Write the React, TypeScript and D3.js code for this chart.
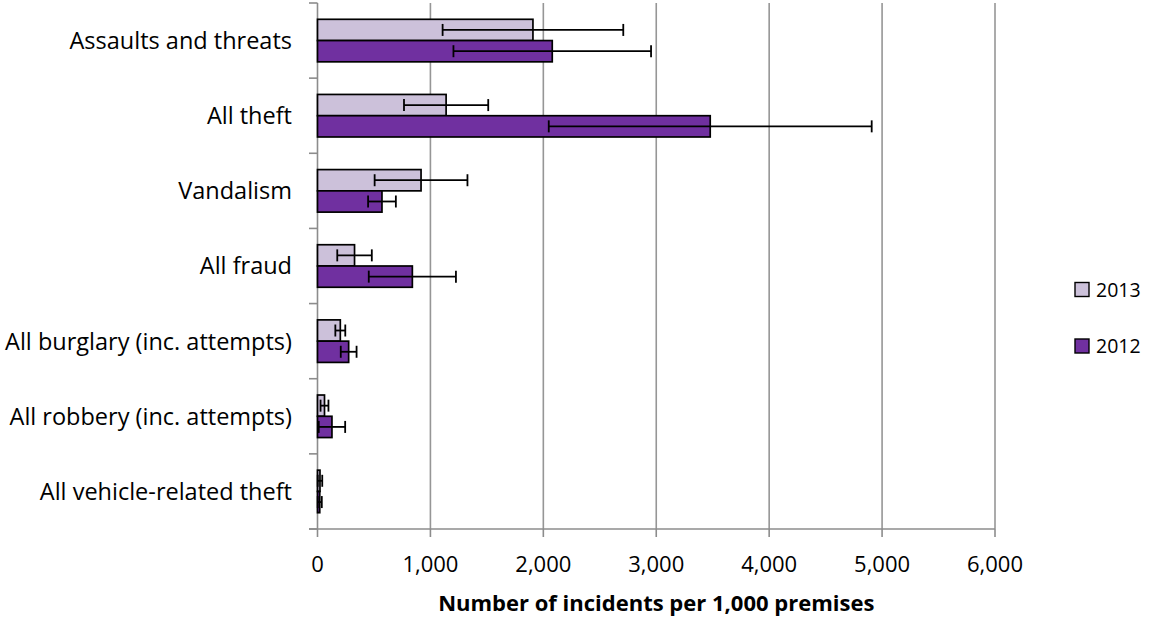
import React from "react";
import * as d3 from "d3";

const categories = [
  "Assaults and threats",
  "All theft",
  "Vandalism",
  "All fraud",
  "All burglary (inc. attempts)",
  "All robbery (inc. attempts)",
  "All vehicle-related theft",
];
const seriesNames = ["2013", "2012"];
const values2013 = [1908, 1139, 917, 328, 202, 62, 22];
const values2012 = [2079, 3478, 571, 840, 276, 128, 20];
const err2013 = [800, 373, 411, 153, 44, 35, 20];
const err2012 = [875, 1430, 123, 386, 70, 117, 18];
const xTicks = [0, 1000, 2000, 3000, 4000, 5000, 6000];
const xTitle = "Number of incidents per 1,000 premises";

const colors: Record<string, string> = { "2013": "#CCC1DA", "2012": "#7030A0" };
const FONT = "'Open Sans', sans-serif";

export default function App() {
  const W = 1150, H = 617;
  const x0 = 317.5, x1 = 995, yTop = 3, yBot = 529;
  const x = d3.scaleLinear().domain([0, 6000]).range([x0, x1]);
  const y = d3.scaleBand<string>().domain(categories).range([yTop, yBot]);
  const bw = y.bandwidth();
  const ys = d3.scaleBand<string>().domain(seriesNames).range([bw * 0.217, bw * 0.783]);
  const fmt = d3.format(",");
  const data = seriesNames.map((s) => ({
    s,
    vals: s === "2013" ? values2013 : values2012,
    errs: s === "2013" ? err2013 : err2012,
  }));
  const catBounds = d3.range(categories.length + 1).map((i) => yTop + i * bw);

  return (
    <svg width={W} height={H} style={{ position: "absolute", left: 0, top: 0, background: "#fff" }} fontFamily={FONT}>
      {xTicks.slice(1).map((t) => (
        <line key={"g" + t} x1={x(t)} x2={x(t)} y1={yTop} y2={yBot} stroke="#969696" strokeWidth={1.6} />
      ))}
      <line x1={x0} x2={x0} y1={yTop} y2={yBot} stroke="#8c8c8c" strokeWidth={1.6} />
      <line x1={309} x2={x1} y1={yBot} y2={yBot} stroke="#8c8c8c" strokeWidth={1.6} />
      {catBounds.map((b, i) => (
        <line key={"yt" + i} x1={309} x2={x0} y1={b} y2={b} stroke="#8c8c8c" strokeWidth={1.6} />
      ))}
      {xTicks.map((t) => (
        <line key={"xt" + t} x1={x(t)} x2={x(t)} y1={yBot} y2={yBot + 8} stroke="#8c8c8c" strokeWidth={1.6} />
      ))}
      {data.map((d) =>
        categories.map((c, i) => {
          const yy = (y(c) as number) + (ys(d.s) as number);
          const h = ys.bandwidth();
          return (
            <rect
              key={d.s + c}
              x={x(0)}
              y={yy}
              width={x(d.vals[i]) - x(0)}
              height={h}
              fill={colors[d.s]}
              stroke="#000"
              strokeWidth={1.7}
            />
          );
        })
      )}
      {data.map((d) =>
        categories.map((c, i) => {
          const cy = (y(c) as number) + (ys(d.s) as number) + ys.bandwidth() / 2;
          const lo = x(Math.max(0, d.vals[i] - d.errs[i]));
          const hi = x(d.vals[i] + d.errs[i]);
          return (
            <g key={"e" + d.s + c} stroke="#000" strokeWidth={1.8}>
              <line x1={lo} x2={hi} y1={cy} y2={cy} />
              <line x1={lo} x2={lo} y1={cy - 6} y2={cy + 6} />
              <line x1={hi} x2={hi} y1={cy - 6} y2={cy + 6} />
            </g>
          );
        })
      )}
      {categories.map((c) => (
        <text key={"l" + c} x={292} y={(y(c) as number) + bw / 2} dy="0.36em" textAnchor="end" fontSize={23.5} fill="#000">
          {c}
        </text>
      ))}
      {xTicks.map((t) => (
        <text key={"tl" + t} x={x(t)} y={572} textAnchor="middle" fontSize={22} fill="#000">
          {fmt(t)}
        </text>
      ))}
      <text x={(x0 + x1) / 2} y={610.5} textAnchor="middle" fontSize={22} fontWeight="bold" fill="#000">
        {xTitle}
      </text>
      {seriesNames.map((s, i) => {
        const cy = 289.5 + i * 56.5;
        return (
          <g key={"lg" + s}>
            <rect x={1075} y={cy - 7} width={14} height={14} fill={colors[s]} stroke="#000" strokeWidth={1.4} />
            <text x={1096} y={cy} dy="0.36em" fontSize={19.5} fill="#000">
              {s}
            </text>
          </g>
        );
      })}
    </svg>
  );
}
